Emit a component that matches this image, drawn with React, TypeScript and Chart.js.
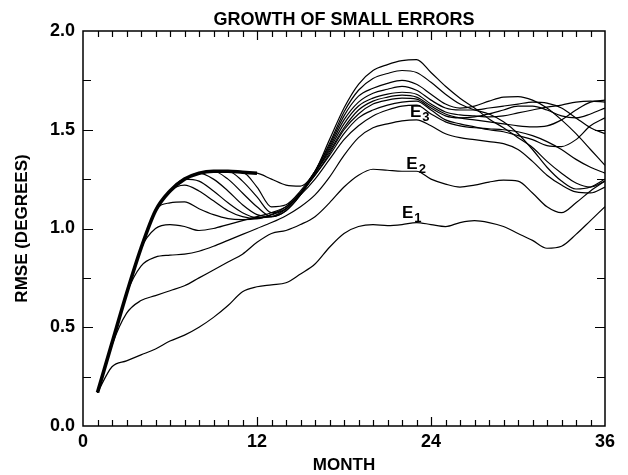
import React, { useEffect, useRef } from "react";
import { Chart, registerables } from "chart.js";

Chart.register(...registerables);

// Forecast month for every sample
const MONTHS = [1, 2, 3, 4, 5, 6, 7, 8, 9, 10, 11, 12, 13, 14, 15, 16, 17, 18, 19, 20, 21, 22, 23, 24, 25, 26, 27, 28, 29, 30, 31, 32, 33, 34, 35, 36];

// Envelope curve (first year only)
const ENVELOPE = [0.17, 0.42, 0.67, 0.9, 1.09, 1.19, 1.25, 1.28, 1.29, 1.29, 1.285, 1.28];

// RMSE curves, one per starting month
const E1 = [0.17, 0.3, 0.33, 0.36, 0.39, 0.43, 0.46, 0.5, 0.55, 0.61, 0.68, 0.705, 0.715, 0.725, 0.77, 0.82, 0.905, 0.975, 1.01, 1.02, 1.015, 1.02, 1.03, 1.02, 1.01, 1.03, 1.04, 1.03, 1.01, 0.975, 0.94, 0.9, 0.91, 0.97, 1.04, 1.11];
const E2 = [0.17, 0.41, 0.57, 0.635, 0.66, 0.685, 0.71, 0.75, 0.79, 0.83, 0.87, 0.93, 0.975, 0.99, 1.02, 1.06, 1.13, 1.21, 1.27, 1.3, 1.295, 1.29, 1.29, 1.25, 1.225, 1.21, 1.22, 1.235, 1.245, 1.24, 1.18, 1.11, 1.08, 1.13, 1.19, 1.24];
const E3 = [0.17, 0.42, 0.67, 0.81, 0.855, 0.865, 0.87, 0.885, 0.91, 0.94, 0.97, 1.0, 1.03, 1.065, 1.11, 1.17, 1.26, 1.37, 1.46, 1.51, 1.53, 1.545, 1.55, 1.52, 1.48, 1.46, 1.45, 1.44, 1.43, 1.4, 1.34, 1.27, 1.22, 1.185, 1.18, 1.21];
const E4 = [0.17, 0.42, 0.67, 0.9, 1.0, 1.02, 1.01, 0.99, 1.0, 1.02, 1.04, 1.06, 1.08, 1.11, 1.17, 1.25, 1.35, 1.45, 1.52, 1.57, 1.6, 1.62, 1.625, 1.58, 1.54, 1.52, 1.51, 1.505, 1.5, 1.49, 1.47, 1.44, 1.4, 1.35, 1.31, 1.28];
const E5 = [0.17, 0.42, 0.67, 0.9, 1.09, 1.13, 1.135, 1.1, 1.07, 1.05, 1.045, 1.05, 1.07, 1.11, 1.18, 1.27, 1.37, 1.48, 1.56, 1.6, 1.625, 1.64, 1.645, 1.6, 1.55, 1.53, 1.515, 1.5, 1.49, 1.47, 1.45, 1.42, 1.415, 1.45, 1.52, 1.56];
const E6 = [0.17, 0.42, 0.67, 0.9, 1.09, 1.19, 1.22, 1.19, 1.14, 1.09, 1.06, 1.05, 1.07, 1.1, 1.18, 1.27, 1.38, 1.5, 1.58, 1.63, 1.65, 1.66, 1.655, 1.61, 1.57, 1.56, 1.565, 1.58, 1.6, 1.62, 1.62, 1.6, 1.57, 1.56, 1.58, 1.61];
const E7 = [0.17, 0.42, 0.67, 0.9, 1.09, 1.19, 1.25, 1.24, 1.19, 1.13, 1.08, 1.055, 1.06, 1.1, 1.18, 1.28, 1.39, 1.51, 1.6, 1.645, 1.665, 1.675, 1.665, 1.62, 1.58, 1.56, 1.55, 1.54, 1.53, 1.52, 1.515, 1.52, 1.55, 1.6, 1.64, 1.65];
const E8 = [0.17, 0.42, 0.67, 0.9, 1.09, 1.19, 1.25, 1.28, 1.25, 1.19, 1.12, 1.07, 1.06, 1.09, 1.17, 1.28, 1.4, 1.53, 1.62, 1.66, 1.68, 1.69, 1.68, 1.63, 1.59, 1.575, 1.57, 1.565, 1.57, 1.585, 1.6, 1.615, 1.625, 1.64, 1.645, 1.64];
const E9 = [0.17, 0.42, 0.67, 0.9, 1.09, 1.19, 1.25, 1.28, 1.29, 1.25, 1.18, 1.11, 1.06, 1.09, 1.17, 1.28, 1.41, 1.55, 1.64, 1.685, 1.705, 1.72, 1.7, 1.65, 1.61, 1.6, 1.6, 1.61, 1.62, 1.63, 1.64, 1.635, 1.61, 1.56, 1.51, 1.48];
const E10 = [0.17, 0.42, 0.67, 0.9, 1.09, 1.19, 1.25, 1.28, 1.29, 1.29, 1.24, 1.16, 1.08, 1.1, 1.18, 1.29, 1.42, 1.57, 1.67, 1.71, 1.735, 1.75, 1.73, 1.68, 1.63, 1.61, 1.62, 1.645, 1.665, 1.668, 1.65, 1.61, 1.55, 1.48, 1.4, 1.32];
const E11 = [0.17, 0.42, 0.67, 0.9, 1.09, 1.19, 1.25, 1.28, 1.29, 1.29, 1.285, 1.21, 1.11, 1.12, 1.19, 1.29, 1.43, 1.59, 1.7, 1.76, 1.785, 1.8, 1.79, 1.74, 1.68, 1.63, 1.6, 1.58, 1.54, 1.48, 1.4, 1.31, 1.24, 1.2, 1.21, 1.25];
const E12 = [0.17, 0.42, 0.67, 0.9, 1.09, 1.19, 1.25, 1.28, 1.29, 1.29, 1.285, 1.28, 1.25, 1.22, 1.215, 1.29, 1.45, 1.61, 1.73, 1.8, 1.83, 1.85, 1.855, 1.79, 1.72, 1.66, 1.61, 1.555, 1.51, 1.46, 1.41, 1.34, 1.28, 1.23, 1.21, 1.24];

const CURVES = [E1, E2, E3, E4, E5, E6, E7, E8, E9, E10, E11, E12];

// Y tick labels shown on the left axis
const Y_TICK_LABELS = ["0.0", "0.5", "1.0", "1.5", "2.0"];
// X tick labels shown on the bottom axis
const X_TICK_LABELS = ["0", "12", "24", "36"];

// Curve annotations: letter, subscript, anchor month and value (baseline)
const CURVE_NOTES = [
  { text: "E", sub: "1", month: 22.0, value: 1.055 },
  { text: "E", sub: "2", month: 22.3, value: 1.3 },
  { text: "E", sub: "3", month: 22.55, value: 1.565 },
];

const FONT = "'Liberation Sans', Arial, Helvetica, sans-serif";

const toPoints = (vals: number[]) => vals.map((v, i) => ({ x: MONTHS[i], y: v }));

const framePlugin = {
  id: "frameAndText",
  afterDraw(chart: any) {
    const { ctx, chartArea: a, scales } = chart;
    const x = scales.x;
    const y = scales.y;
    ctx.save();
    ctx.strokeStyle = "#000";
    ctx.fillStyle = "#000";

    // plot frame
    ctx.lineWidth = 1.5;
    ctx.strokeRect(a.left, a.top, a.right - a.left, a.bottom - a.top);

    // inward tick marks on all four sides
    ctx.lineWidth = 1.2;
    ctx.beginPath();
    x.ticks.forEach((t: any) => {
      if (t.value <= 0 || t.value >= 36) return;
      const px = Math.round(x.getPixelForValue(t.value)) + 0.5;
      const len = t.value % 12 === 0 ? 9 : 6;
      ctx.moveTo(px, a.bottom);
      ctx.lineTo(px, a.bottom - len);
      ctx.moveTo(px, a.top);
      ctx.lineTo(px, a.top + len);
    });
    y.ticks.forEach((t: any) => {
      if (t.value <= 0 || t.value >= 2) return;
      const py = Math.round(y.getPixelForValue(t.value)) + 0.5;
      const major = Math.abs(t.value * 2 - Math.round(t.value * 2)) < 1e-6;
      const len = major ? 10 : 8;
      ctx.moveTo(a.left, py);
      ctx.lineTo(a.left + len, py);
      ctx.moveTo(a.right, py);
      ctx.lineTo(a.right - len, py);
    });
    ctx.stroke();

    // title
    ctx.font = `bold 18px ${FONT}`;
    ctx.textAlign = "center";
    ctx.textBaseline = "alphabetic";
    ctx.fillText("GROWTH OF SMALL ERRORS", (a.left + a.right) / 2, 25);

    // axis titles
    ctx.font = `bold 17px ${FONT}`;
    ctx.textBaseline = "middle";
    ctx.fillText("MONTH", (a.left + a.right) / 2, 465);
    ctx.save();
    ctx.translate(22, (a.top + a.bottom) / 2);
    ctx.rotate(-Math.PI / 2);
    ctx.fillText("RMSE (DEGREES)", 0, 0);
    ctx.restore();

    // curve annotations with subscripts
    ctx.textAlign = "left";
    ctx.textBaseline = "alphabetic";
    CURVE_NOTES.forEach((n) => {
      const px = x.getPixelForValue(n.month);
      const py = y.getPixelForValue(n.value);
      ctx.font = `bold 17px ${FONT}`;
      ctx.fillText(n.text, px, py);
      const w = ctx.measureText(n.text).width;
      ctx.font = `bold 13px ${FONT}`;
      ctx.fillText(n.sub, px + w + 1, py + 4);
    });

    ctx.restore();
  },
};

export default function App() {
  const canvasRef = useRef<HTMLCanvasElement | null>(null);

  useEffect(() => {
    if (!canvasRef.current) return;
    const thin = CURVES.map((vals) => ({
      data: toPoints(vals),
      borderColor: "#000",
      borderWidth: 1.2,
      pointRadius: 0,
      fill: false,
      cubicInterpolationMode: "monotone" as const,
    }));
    const thick = {
      data: toPoints(ENVELOPE),
      borderColor: "#000",
      borderWidth: 3.6,
      pointRadius: 0,
      fill: false,
      cubicInterpolationMode: "monotone" as const,
    };

    const chart = new Chart(canvasRef.current, {
      type: "line",
      data: { datasets: [...thin, thick] as any },
      options: {
        responsive: false,
        animation: false,
        devicePixelRatio: 1,
        layout: { padding: { left: 0, top: 31, right: 23, bottom: 0 } },
        plugins: {
          legend: { display: false },
          tooltip: { enabled: false },
          title: { display: false },
        },
        scales: {
          x: {
            type: "linear",
            min: 0,
            max: 36,
            afterFit: (s: any) => {
              s.height = 49;
            },
            grid: { display: false, drawTicks: false },
            border: { display: false },
            ticks: {
              stepSize: 1,
              autoSkip: false,
              maxRotation: 0,
              padding: 5,
              color: "#000",
              font: { family: FONT, size: 18, weight: "bold" },
              callback: (v: any) => {
                const s = String(v);
                return X_TICK_LABELS.includes(s) ? s : "";
              },
            },
          },
          y: {
            type: "linear",
            min: 0,
            max: 2,
            afterFit: (s: any) => {
              s.width = 83;
            },
            grid: { display: false, drawTicks: false },
            border: { display: false },
            ticks: {
              stepSize: 0.25,
              autoSkip: false,
              padding: 8,
              color: "#000",
              font: { family: FONT, size: 18, weight: "bold" },
              callback: (v: any) => {
                const s = Number(v).toFixed(1);
                const onHalf = Math.abs(Number(v) * 2 - Math.round(Number(v) * 2)) < 1e-6;
                return onHalf && Y_TICK_LABELS.includes(s) ? s : "";
              },
            },
          },
        },
      },
      plugins: [framePlugin],
    });
    return () => chart.destroy();
  }, []);

  return (
    <div style={{ position: "fixed", left: 0, top: 0, width: 628, height: 475, background: "#fff" }}>
      <canvas ref={canvasRef} width={628} height={475} />
    </div>
  );
}
